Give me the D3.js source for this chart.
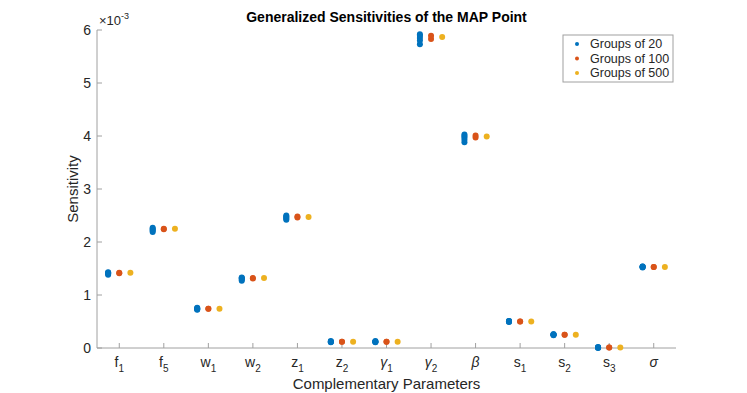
<!DOCTYPE html>
<html>
<head>
<meta charset="utf-8">
<script src="https://cdn.jsdelivr.net/npm/d3@7"></script>
<style>
body { margin: 0; background: #fff; }
text { font-family: "Liberation Sans", Arial, sans-serif; fill: #262626; }
</style>
</head>
<body>
<script>
var width = 747,
    height = 393;

// parameter names: base letter + subscript
var params = [
  ['f', '1'], ['f', '5'], ['w', '1'], ['w', '2'], ['z', '1'], ['z', '2'],
  ['\u03b3', '1'], ['\u03b3', '2'], ['\u03b2', ''], ['s', '1'], ['s', '2'], ['s', '3'], ['\u03c3', '']
];

// sensitivities, units of 1e-3
var groups20 = [
  [1.38, 1.40, 1.41, 1.42, 1.43],
  [2.19, 2.21, 2.23, 2.25, 2.27],
  [0.72, 0.73, 0.74, 0.75, 0.76],
  [1.27, 1.29, 1.31, 1.32, 1.33],
  [2.42, 2.44, 2.46, 2.48, 2.50],
  [0.11, 0.12, 0.12, 0.12, 0.13],
  [0.11, 0.12, 0.12, 0.12, 0.13],
  [5.73, 5.80, 5.85, 5.89, 5.92],
  [3.88, 3.93, 3.97, 4.00, 4.03],
  [0.49, 0.50, 0.50, 0.51, 0.51],
  [0.24, 0.25, 0.25, 0.26, 0.26],
  [0.00, 0.01, 0.01, 0.01, 0.02],
  [1.52, 1.53, 1.53, 1.54, 1.54]
];
var groups100 = [
  [1.41, 1.42], [2.24, 2.25], [0.74, 0.74], [1.31, 1.32], [2.46, 2.48],
  [0.12, 0.12], [0.12, 0.12], [5.83, 5.89], [3.97, 4.01], [0.50, 0.50],
  [0.25, 0.25], [0.01, 0.01], [1.53, 1.53]
];
var groups500 = [1.42, 2.25, 0.74, 1.32, 2.47, 0.12, 0.12, 5.87, 3.99, 0.50, 0.25, 0.01, 1.53];

var seriesNames = ['Groups of 20', 'Groups of 100', 'Groups of 500'];
var colors = ['#0072BD', '#D95319', '#EDB120'];
var yTicks = [0, 1, 2, 3, 4, 5, 6];

var margin = {left: 97, right: 71, top: 30, bottom: 45};

var svg = d3.select('body')
            .append('svg')
            .attr('width', width)
            .attr('height', height)

var x = d3.scaleLinear().domain([0.5, params.length + 0.5]).range([margin.left, width - margin.right])
var y = d3.scaleLinear().domain([0, 6]).range([height - margin.bottom, margin.top])

var axisColor = '#a0a0a0'

// x axis
var xAxis = svg.append('g')
var bottom = y(0)
xAxis.append('line')
    .attr('x1', x.range()[0]).attr('x2', x.range()[1])
    .attr('y1', bottom).attr('y2', bottom)
    .attr('stroke', axisColor)
var xt = xAxis.selectAll('.xt')
    .data(params)
    .enter().append('g')
    .attr('transform', (d, i) => 'translate(' + x(i + 1) + ',0)')
xt.append('line')
    .attr('y1', bottom).attr('y2', bottom - 5)
    .attr('stroke', axisColor)
var xl = xt.append('text')
    .attr('y', bottom + 19)
    .attr('text-anchor', 'middle')
    .style('font-size', '14px')
xl.append('tspan')
    .style('font-style', (d) => /[a-z]/.test(d[0]) ? 'normal' : 'italic')
    .text((d) => d[0])
xl.append('tspan')
    .attr('dy', 5)
    .style('font-size', '10px')
    .text((d) => d[1])

// y axis
var yAxis = svg.append('g')
yAxis.append('line')
    .attr('x1', margin.left).attr('x2', margin.left)
    .attr('y1', y(0)).attr('y2', y(6))
    .attr('stroke', axisColor)
var yt = yAxis.selectAll('.yt')
    .data(yTicks)
    .enter().append('g')
    .attr('transform', (d) => 'translate(0,' + y(d) + ')')
yt.append('line')
    .attr('x1', margin.left).attr('x2', margin.left + 5)
    .attr('stroke', axisColor)
yt.append('text')
    .attr('x', margin.left - 6)
    .attr('dy', '0.35em')
    .attr('text-anchor', 'end')
    .style('font-size', '14px')
    .text((d) => d)

// exponent label
var ex = svg.append('text')
    .attr('x', 99)
    .attr('y', 25)
    .style('font-size', '13px')
ex.append('tspan').text('\u00d710')
ex.append('tspan').attr('dy', -6).style('font-size', '9px').text('-3')

// points
function addSeries(vals, k) {
  var pts = []
  vals.forEach(function(v, i) {
    [].concat(v).forEach(function(val) { pts.push({i: i, v: val}) })
  })
  svg.append('g').selectAll('circle')
      .data(pts)
      .enter().append('circle')
      .attr('cx', (d) => x(d.i + 1 + (k - 1) * 0.25))
      .attr('cy', (d) => y(d.v))
      .attr('r', 3)
      .attr('fill', colors[k])
}
addSeries(groups20, 0)
addSeries(groups100, 1)
addSeries(groups500, 2)

// title and labels
svg.append('text')
    .attr('x', (x.range()[0] + x.range()[1]) / 2)
    .attr('y', 22)
    .attr('text-anchor', 'middle')
    .style('font-size', '14px')
    .style('font-weight', 'bold')
    .style('fill', '#000')
    .text('Generalized Sensitivities of the MAP Point')

svg.append('text')
    .attr('transform', 'translate(78,' + (y(3)) + ') rotate(-90)')
    .attr('text-anchor', 'middle')
    .style('font-size', '15px')
    .text('Sensitivity')

svg.append('text')
    .attr('x', (x.range()[0] + x.range()[1]) / 2)
    .attr('y', 389)
    .attr('text-anchor', 'middle')
    .style('font-size', '15px')
    .text('Complementary Parameters')

// legend
var lg = svg.append('g').attr('transform', 'translate(563,35)')
lg.append('rect')
    .attr('width', 110).attr('height', 47)
    .attr('fill', '#fff')
    .attr('stroke', axisColor)
var li = lg.selectAll('.li')
    .data(seriesNames)
    .enter().append('g')
    .attr('transform', (d, i) => 'translate(0,' + (9 + i * 14.5) + ')')
li.append('circle')
    .attr('cx', 14).attr('r', 2)
    .attr('fill', (d, i) => colors[i])
li.append('text')
    .attr('x', 27)
    .attr('dy', '0.35em')
    .style('font-size', '12.5px')
    .text((d) => d)
</script>
</body>
</html>
